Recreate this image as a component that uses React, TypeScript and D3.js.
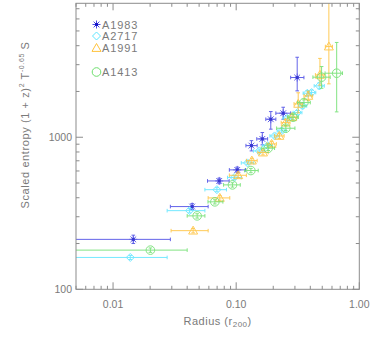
import React from "react";
import * as d3 from "d3";

// [x, y, xLo, xHi, yLo, yHi]
type Pt = [number, number, number, number, number, number];

const a1983: Pt[] = [
  [0.0146, 213, 0.001, 0.0292, 200, 227],
  [0.0439, 350, 0.0292, 0.0592, 335, 366],
  [0.0728, 516, 0.0585, 0.0877, 495, 538],
  [0.102, 610, 0.088, 0.119, 585, 636],
  [0.133, 881, 0.12, 0.148, 813, 950],
  [0.163, 975, 0.147, 0.18, 891, 1074],
  [0.191, 1313, 0.174, 0.21, 1130, 1475],
  [0.241, 1439, 0.21, 0.277, 1313, 1575],
  [0.313, 2470, 0.277, 0.355, 2018, 3357],
];

const a2717: Pt[] = [
  [0.0138, 162, 0.001, 0.0275, 157, 167],
  [0.0418, 329, 0.0275, 0.0557, 318, 340],
  [0.0697, 452, 0.0557, 0.0834, 438, 466],
  [0.0963, 543, 0.085, 0.11, 528, 558],
  [0.1236, 678, 0.11, 0.139, 660, 696],
  [0.154, 813, 0.138, 0.171, 790, 836],
  [0.18, 881, 0.164, 0.197, 856, 906],
  [0.205, 1020, 0.188, 0.224, 990, 1050],
  [0.234, 1101, 0.215, 0.255, 1068, 1134],
  [0.26, 1334, 0.24, 0.282, 1290, 1380],
  [0.315, 1453, 0.29, 0.342, 1405, 1500],
  [0.346, 1607, 0.32, 0.374, 1550, 1665],
  [0.378, 1947, 0.35, 0.408, 1870, 2025],
  [0.41, 1967, 0.38, 0.443, 1890, 2045],
  [0.473, 2177, 0.43, 0.52, 2080, 2280],
];

const a1991: Pt[] = [
  [0.0447, 243, 0.0296, 0.0592, 235, 251],
  [0.0736, 399, 0.0592, 0.0887, 385, 413],
  [0.1038, 562, 0.088, 0.121, 542, 582],
  [0.134, 702, 0.121, 0.148, 678, 726],
  [0.165, 793, 0.15, 0.182, 765, 821],
  [0.194, 904, 0.178, 0.212, 870, 940],
  [0.224, 1020, 0.205, 0.245, 980, 1060],
  [0.252, 1248, 0.232, 0.274, 1190, 1310],
  [0.285, 1354, 0.262, 0.31, 1290, 1420],
  [0.319, 1657, 0.295, 0.345, 1445, 1960],
  [0.385, 1870, 0.355, 0.418, 1740, 2010],
  [0.479, 2570, 0.44, 0.52, 2200, 3300],
  [0.566, 3948, 0.53, 0.605, 2244, 9500],
];

const a1413: Pt[] = [
  [0.0201, 181, 0.001, 0.04, 175, 187],
  [0.0482, 304, 0.04, 0.0557, 294, 314],
  [0.0671, 376, 0.059, 0.078, 364, 388],
  [0.0933, 486, 0.079, 0.108, 470, 502],
  [0.1316, 604, 0.117, 0.151, 584, 624],
  [0.182, 847, 0.16, 0.205, 818, 876],
  [0.253, 1146, 0.213, 0.3, 1105, 1190],
  [0.29, 1354, 0.262, 0.32, 1300, 1410],
  [0.355, 1690, 0.315, 0.4, 1620, 1760],
  [0.494, 2483, 0.42, 0.58, 2099, 2917],
  [0.655, 2637, 0.527, 0.73, 1468, 4200],
];

const xMajor = [0.01, 0.1, 1];
const xMajorLabels = ["0.01", "0.10", "1.00"];
const yMajor = [100, 1000];
const yMajorLabels = ["100", "1000"];

const series = [
  { name: "A1983", data: a1983, color: "#4a4ae6", shape: "star", ly: 24.5 },
  { name: "A2717", data: a2717, color: "#5fe6ff", shape: "diamond", ly: 36 },
  { name: "A1991", data: a1991, color: "#ffc23a", shape: "triangle", ly: 48 },
  { name: "A1413", data: a1413, color: "#6ee06e", shape: "circle", ly: 72 },
];

const W = 382;
const H = 338;
const L = 76;
const R = 359.3;
const T = 3.3;
const B = 289.3;
const axisColor = "#8c8c8c";
const textColor = "#7a7a7a";
const font = "Liberation Sans, Arial, sans-serif";

const Marker = ({ shape, cx, cy, color }: any) => {
  if (shape === "star") {
    const r = 4;
    const d = r * 0.72;
    return (
      <g stroke={color} strokeWidth={1}>
        <line x1={cx - r} y1={cy} x2={cx + r} y2={cy} />
        <line x1={cx} y1={cy - r} x2={cx} y2={cy + r} />
        <line x1={cx - d} y1={cy - d} x2={cx + d} y2={cy + d} />
        <line x1={cx - d} y1={cy + d} x2={cx + d} y2={cy - d} />
        <rect x={cx - 1.5} y={cy - 1.5} width={3} height={3} fill="#1515c8" stroke="none" />
      </g>
    );
  }
  if (shape === "diamond") {
    const r = 4;
    return (
      <path
        d={`M${cx},${cy - r}L${cx + r},${cy}L${cx},${cy + r}L${cx - r},${cy}Z`}
        fill="none"
        stroke={color}
        strokeWidth={1}
      />
    );
  }
  if (shape === "triangle") {
    const r = 4.5;
    return (
      <path
        d={`M${cx},${cy - r}L${cx + r},${cy + r * 0.75}L${cx - r},${cy + r * 0.75}Z`}
        fill="none"
        stroke={color}
        strokeWidth={1}
      />
    );
  }
  return <circle cx={cx} cy={cy} r={4.3} fill="none" stroke={color} strokeWidth={1} />;
};

export default function App() {
  const x = d3.scaleLog().domain([0.005, 1]).range([L, R]);
  const y = d3.scaleLog().domain([100, 7600]).range([B, T]);

  const xTicks = x.ticks();
  const yTicks = y.ticks();
  const cap = 1.8;

  return (
    <svg
      width={W}
      height={H}
      style={{ position: "absolute", left: 0, top: 0, background: "#fff" }}
      fontFamily={font}
    >
      <defs>
        <clipPath id="plot">
          <rect x={L} y={T} width={R - L} height={B - T} />
        </clipPath>
      </defs>

      {/* data */}
      <g clipPath="url(#plot)">
        {series.map((s) => (
          <g key={s.name} opacity={0.85}>
            {s.data.map((p, i) => {
              const cx = x(p[0]);
              const cy = y(p[1]);
              const x0 = x(p[2]);
              const x1 = x(p[3]);
              const y0 = y(p[4]);
              const y1 = y(p[5]);
              return (
                <g key={i}>
                  <g stroke={s.color} strokeWidth={1}>
                    <line x1={x0} y1={cy} x2={x1} y2={cy} />
                    <line x1={x0} y1={cy - cap} x2={x0} y2={cy + cap} />
                    <line x1={x1} y1={cy - cap} x2={x1} y2={cy + cap} />
                    <line x1={cx} y1={y0} x2={cx} y2={y1} />
                    <line x1={cx - cap} y1={y0} x2={cx + cap} y2={y0} />
                    <line x1={cx - cap} y1={y1} x2={cx + cap} y2={y1} />
                  </g>
                  <Marker shape={s.shape} cx={cx} cy={cy} color={s.color} />
                </g>
              );
            })}
          </g>
        ))}
      </g>

      {/* frame and ticks */}
      <rect x={L} y={T} width={R - L} height={B - T} fill="none" stroke={axisColor} strokeWidth={1} />
      <g stroke={axisColor} strokeWidth={1}>
        {xTicks.map((t, i) => {
          const len = xMajor.some((m) => Math.abs(m - t) < 1e-9) ? 7 : 3.5;
          const px = x(t);
          return (
            <g key={"xt" + i}>
              <line x1={px} y1={B} x2={px} y2={B - len} />
              <line x1={px} y1={T} x2={px} y2={T + len} />
            </g>
          );
        })}
        {yTicks.map((t, i) => {
          const len = yMajor.includes(t) ? 7 : 3.5;
          const py = y(t);
          return (
            <g key={"yt" + i}>
              <line x1={L} y1={py} x2={L + len} y2={py} />
              <line x1={R} y1={py} x2={R - len} y2={py} />
            </g>
          );
        })}
      </g>

      {/* tick labels */}
      <g fill={textColor} fontSize={10.5}>
        {xMajor.map((t, i) => (
          <text key={"xl" + i} x={x(t)} y={B + 19} textAnchor="middle">
            {xMajorLabels[i]}
          </text>
        ))}
        {yMajor.map((t, i) => (
          <text key={"yl" + i} x={L - 4} y={y(t) + 4} textAnchor="end">
            {yMajorLabels[i]}
          </text>
        ))}
      </g>

      {/* axis titles */}
      <text x={(L + R) / 2} y={325} textAnchor="middle" fill={textColor} fontSize={11} letterSpacing={0.5}>
        Radius (r
        <tspan fontSize={8} dy={2}>200</tspan>
        <tspan dy={-2}>)</tspan>
      </text>
      <text
        transform={`translate(29,125) rotate(-90)`}
        textAnchor="middle"
        fill={textColor}
        fontSize={11}
        letterSpacing={0.6}
      >
        Scaled entropy (1 + z)
        <tspan fontSize={7} dy={-5}>2</tspan>
        <tspan dy={5}> T</tspan>
        <tspan fontSize={7} dy={-5}>-0.65</tspan>
        <tspan dy={5}> S</tspan>
      </text>

      {/* legend */}
      {series.map((s) => (
        <g key={"lg" + s.name}>
          <Marker shape={s.shape} cx={96.5} cy={s.ly} color={s.color} />
          <text x={102} y={s.ly + 4} fill={textColor} fontSize={11} letterSpacing={0.9}>
            {s.name}
          </text>
        </g>
      ))}
    </svg>
  );
}
